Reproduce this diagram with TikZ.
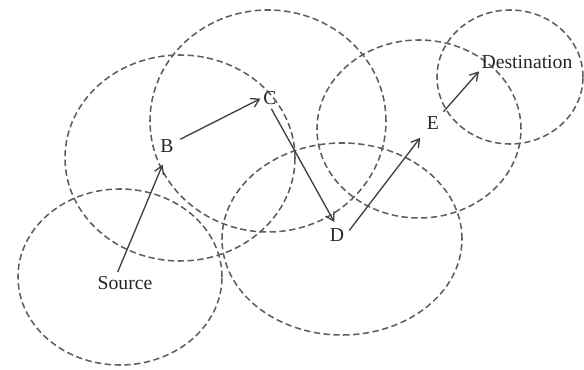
\documentclass[tikz,border=0pt]{standalone}
\usepackage{fontspec}
\setmainfont{Liberation Serif}
\usepackage{tikz}
\usetikzlibrary{arrows.meta}
\definecolor{rangec}{HTML}{5E5E5E}
\definecolor{hopc}{HTML}{404040}
\tikzset{
  cover/.style ={draw=rangec, dash pattern=on 4.5pt off 2.5pt, line width=1.1pt},
  host/.style  ={font=\fontsize{14}{16}\selectfont, inner sep=1pt, text=black!85},
  hop/.style   ={-{Straight Barb[length=2mm,width=2.4mm]}, hopc, line width=0.95pt},
}

\begin{document}
\begin{tikzpicture}
    \useasboundingbox (0,0) rectangle (14.6,-9.25);
    % radio ranges
    \draw[cover] (3.0,-6.925)   ellipse (2.55 and 2.2);
    \draw[cover] (4.5,-3.95)    ellipse (2.875 and 2.575);
    \draw[cover] (6.7,-3.025)   ellipse (2.95 and 2.775);
    \draw[cover] (8.55,-5.975)  ellipse (3.0 and 2.4);
    \draw[cover] (10.475,-3.225) ellipse (2.55 and 2.225);
    \draw[cover] (12.75,-1.925) ellipse (1.825 and 1.675);
    % hosts
    \node[host] (src) at (3.125,-7.075) {Source};
    \node[host] (B)   at (4.175,-3.65)  {B};
    \node[host] (C)   at (6.75,-2.45)   {C};
    \node[host] (D)   at (8.425,-5.875) {D};
    \node[host] (E)   at (10.825,-3.075){E};
    \node[host] (dst) at (13.175,-1.55) {Destination};
    % route
    \draw[hop, shorten <=2pt, shorten >=8pt] ([xshift=-6pt]src.north) -- (B.south);
    \draw[hop, shorten <=4pt, shorten >=1pt] (B) -- (C.west);
    \draw[hop, shorten <=2pt, shorten >=4pt] (C.south) -- (D.north);
    \draw[hop, shorten <=4pt, shorten >=6pt] (D.east) -- (E.south west);
    \draw[hop, shorten <=3pt, shorten >=1pt] (E.north east) -- (dst.south west);
  \end{tikzpicture}
\end{document}
